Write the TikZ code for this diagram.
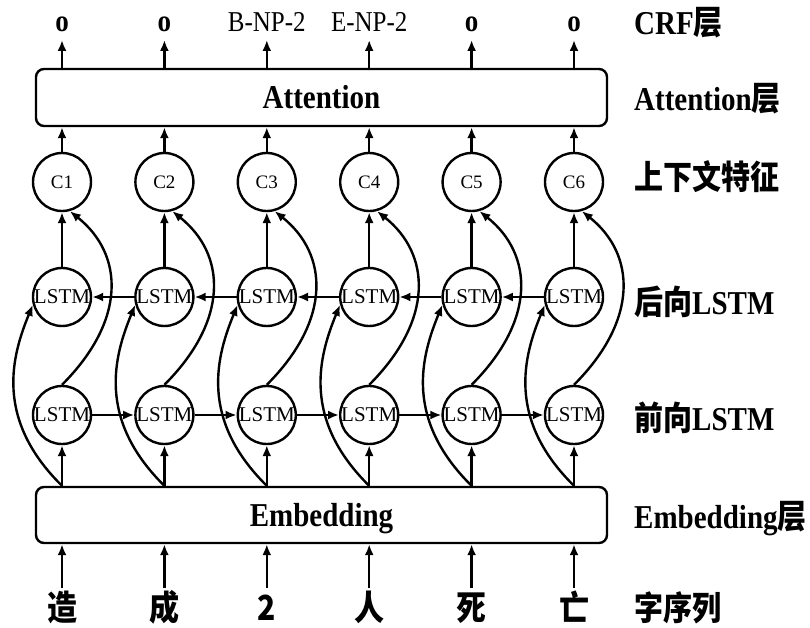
\documentclass[tikz,border=0pt]{standalone}
\usepackage{fontspec}
\setmainfont{Liberation Serif}
\newfontfamily\cjk{Noto Sans CJK SC}
\usetikzlibrary{arrows.meta}
\newcommand\zh[1]{{\cjk\bfseries #1}}
\newcommand\tallt[1]{\scalebox{1}[1.15]{#1}}
\begin{document}
\begin{tikzpicture}[x=1pt,y=-1pt,line width=2.4pt,
  arr/.style={-{Latex[length=11pt,width=9pt]}},
  cnode/.style={circle,draw,minimum size=58pt,inner sep=0pt,font=\fontsize{19}{19}\selectfont},
  lnode/.style={circle,draw,minimum size=58pt,inner sep=0pt,font=\fontsize{21}{21}\selectfont},
  bigbox/.style={draw,rounded corners=8pt,minimum width=571pt,inner sep=0pt,
                 text height=22pt,text depth=0pt,font=\fontsize{29}{29}\selectfont\bfseries},
  lab/.style={anchor=base west,inner sep=0pt,font=\fontsize{29}{29}\selectfont\bfseries},
  toplab/.style={anchor=base,inner sep=0pt,font=\fontsize{25}{25}\selectfont},
  word/.style={anchor=base,inner sep=0pt,font=\fontsize{30}{30}\selectfont\bfseries}
]
\useasboundingbox (0,0) rectangle (810,628);

\node[bigbox,minimum height=57pt] (att) at (321.5,97.5) {\tallt{Attention}};
\node[bigbox,minimum height=56pt] (emb) at (321.5,515) {\tallt{Embedding}};

\foreach \i/\x/\t/\w in {1/62/{\fontsize{27}{27}\selectfont\bfseries o}/\zh{造},
                         2/164.4/{\fontsize{27}{27}\selectfont\bfseries o}/\zh{成},
                         3/266.8/B-NP-2/\zh{2},
                         4/369.2/E-NP-2/\zh{人},
                         5/471.6/{\fontsize{27}{27}\selectfont\bfseries o}/\zh{死},
                         6/574/{\fontsize{27}{27}\selectfont\bfseries o}/\zh{亡}} {
  \node[cnode] (c\i) at (\x,182) {C\i};
  \node[lnode] (b\i) at (\x,297) {LSTM};
  \node[lnode] (f\i) at (\x,415) {LSTM};
  \node[toplab] (t\i) at (\x,32) {\tallt{\t}};
  \coordinate (ta\i) at (\x,40);
  \node[word] (w\i) at (\x,620) {\tallt{\w}};
  \coordinate (wa\i) at (\x,588);
  \coordinate (e\i) at (emb.north -| c\i);
}

\foreach \i in {1,...,6} {
  \draw[arr] (att.north -| c\i) -- (ta\i);
  \draw[arr] (c\i.north) -- (att.south -| c\i);
  \draw[arr] (b\i.north) -- (c\i.south);
  \draw[arr] (e\i) -- (f\i.south);
  \draw[arr] (wa\i) -- (emb.south -| c\i);
  \draw[arr] (f\i.north) .. controls +(65,-65) and +(54,43) .. (c\i.-75);
  \draw[arr] (e\i) .. controls +(-68,-67) and +(-21,51) .. (b\i.195);
}
\foreach \i/\j in {1/2,2/3,3/4,4/5,5/6} {
  \draw[arr] (f\i.east) -- (f\j.west);
  \draw[arr] (b\j.west) -- (b\i.east);
}

\node[lab] (l1) at (633,35) {\tallt{CRF\zh{层}}};
\node[lab] (l2) at (633,111) {\tallt{Attention\zh{层}}};
\node[lab] (l3) at (633,190) {\tallt{\zh{上下文特征}}};
\node[lab] (l4) at (633,314) {\tallt{\zh{后向}LSTM}};
\node[lab] (l5) at (633,430) {\tallt{\zh{前向}LSTM}};
\node[lab] (l6) at (633,528) {\tallt{Embedding\zh{层}}};
\node[lab] (l7) at (633,620) {\tallt{\zh{字序列}}};
\end{tikzpicture}
\end{document}
